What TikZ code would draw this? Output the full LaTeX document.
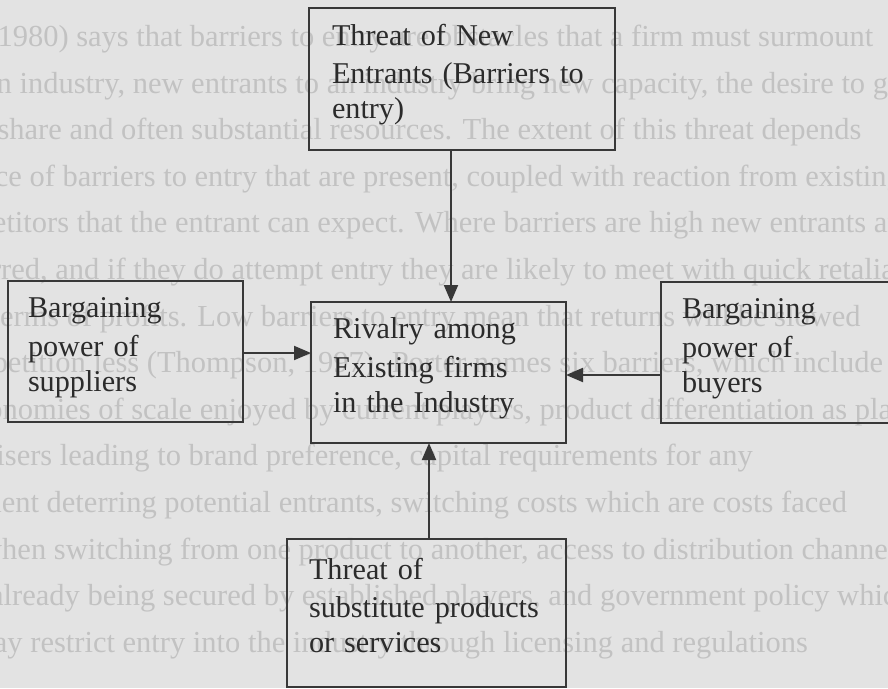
\documentclass[tikz,border=0pt]{standalone}
\usepackage{fontspec}
\setmainfont{Liberation Serif}
\usetikzlibrary{arrows.meta}
\definecolor{paper}{gray}{0.89}
\definecolor{bleed}{gray}{0.76}
\definecolor{ink}{gray}{0.17}
\definecolor{rim}{gray}{0.22}
\newcommand\mystrut{\rule[-16pt]{0pt}{38pt}}
\begin{document}
\begin{tikzpicture}[x=1pt,y=-1pt,
  box/.style={draw=rim, line width=2pt, anchor=north west, align=left,
    inner ysep=0pt, outer sep=0pt, text=ink,
    font=\fontsize{30.2}{35}\selectfont},
  arr/.style={draw=rim, line width=2pt, -{Triangle[length=17pt,width=14pt]}},
  bgline/.style={anchor=base west, inner sep=0pt, text=bleed,
    font=\fontsize{30.5}{35}\selectfont}]
\useasboundingbox (0,0) rectangle (888,688);
\clip (0,0) rectangle (888,688);
\fill[paper] (0,0) rectangle (888,688);

% faint text of the page showing through
\node[bgline] (b0)  at (-95,46)  {Porter (1980) says that barriers to entry are obstacles that a firm must surmount};
\node[bgline] (b1)  at (-12,93)  {in industry, new entrants to an industry bring new capacity, the desire to gain};
\node[bgline] (b2)  at (-95,139) {market share and often substantial resources. The extent of this threat depends};
\node[bgline] (b3)  at (-85,186) {presence of barriers to entry that are present, coupled with reaction from existing};
\node[bgline] (b4)  at (-75,232) {competitors that the entrant can expect. Where barriers are high new entrants are};
\node[bgline] (b5)  at (-60,279) {deterred, and if they do attempt entry they are likely to meet with quick retaliation};
\node[bgline] (b6)  at (-40,326) {in terms of profits. Low barriers to entry mean that returns will be slowed};
\node[bgline] (b7)  at (-60,372) {competition less (Thompson, 1997). Porter names six barriers, which include};
\node[bgline] (b8)  at (-40,419) {economies of scale enjoyed by current players, product differentiation as players};
\node[bgline] (b9)  at (-80,465) {advertisers leading to brand preference, capital requirements for any};
\node[bgline] (b10) at (-95,512) {investment deterring potential entrants, switching costs which are costs faced};
\node[bgline] (b11) at (-20,559) {when switching from one product to another, access to distribution channels};
\node[bgline] (b12) at (-10,605) {already being secured by established players, and government policy which};
\node[bgline] (b13) at (-30,652) {may restrict entry into the industry through licensing and regulations};

% boxes
\node[box, minimum width=306pt, minimum height=142pt, text width=260pt, inner xsep=23pt]
  (entrants) at (309,8) {\mystrut Threat of New\\Entrants (Barriers to\\entry)\mystrut};
\node[box, minimum width=235pt, minimum height=141pt, text width=195pt, inner xsep=20pt]
  (suppliers) at (8,281) {\mystrut Bargaining\\power of\\suppliers\mystrut};
\node[box, minimum width=255pt, minimum height=141pt, text width=211pt, inner xsep=22pt]
  (rivalry) at (311,302) {\mystrut Rivalry among\\Existing firms\\in the Industry\mystrut};
\node[box, minimum width=240pt, minimum height=141pt, text width=198pt, inner xsep=21pt]
  (buyers) at (661,282) {\mystrut Bargaining\\power of\\buyers\mystrut};
\node[box, minimum width=279pt, minimum height=148pt, text width=235pt, inner xsep=22pt]
  (substitutes) at (287,539) {\mystrut Threat of\\substitute products\\or services\mystrut};

% connectors
\draw[arr] ([xshift=142pt]entrants.south west) -- ([xshift=142pt]entrants.south west |- rivalry.north);
\draw[arr] ([yshift=-72pt]suppliers.north east) -- ([yshift=-72pt]suppliers.north east -| rivalry.west);
\draw[arr] ([yshift=-93pt]buyers.north west) -- ([yshift=-93pt]buyers.north west -| rivalry.east);
\draw[arr] ([xshift=142pt]substitutes.north west) -- ([xshift=142pt]substitutes.north west |- rivalry.south);
\end{tikzpicture}
\end{document}
